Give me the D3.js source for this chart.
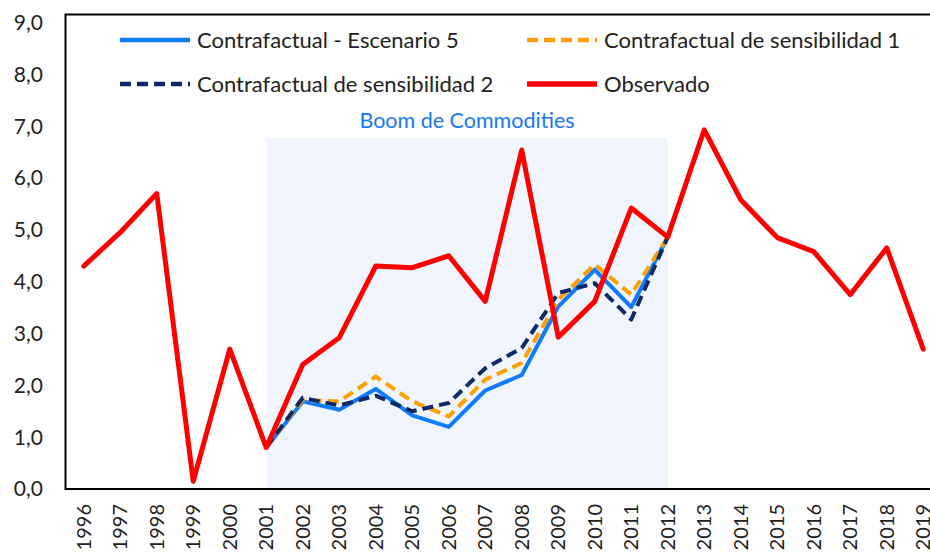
<!DOCTYPE html>
<html>
<head>
<meta charset="utf-8">
<script src="https://cdn.jsdelivr.net/npm/d3@7"></script>
<style>
  body { margin: 0; background: #fff; }
  svg { font-family: Lato, "Open Sans", sans-serif; display: block; }
</style>
</head>
<body>
<svg id="chart" width="930" height="554"></svg>
<script>
// data
const years = d3.range(1996, 2020).map(String);
const observado = [4.3, 4.95, 5.7, 0.15, 2.7, 0.8, 2.4, 2.92, 4.3, 4.27, 4.5, 3.62, 6.54, 2.93, 3.62, 5.42, 4.86, 6.93, 5.58, 4.85, 4.58, 3.75, 4.65, 2.7];
const boomYears = years.slice(5, 17); // 2001..2012
const escenario5 = [0.8, 1.69, 1.53, 1.93, 1.42, 1.2, 1.9, 2.2, 3.52, 4.23, 3.51, 4.86];
const sens1 = [0.8, 1.72, 1.69, 2.17, 1.69, 1.4, 2.11, 2.43, 3.65, 4.33, 3.75, 4.86];
const sens2 = [0.8, 1.76, 1.61, 1.8, 1.5, 1.66, 2.33, 2.72, 3.78, 3.97, 3.27, 4.86];
const boomHeight = 6.77;
const yTicks = d3.range(0, 10);

const series = [
	{name: 'Contrafactual - Escenario 5', x: boomYears, v: escenario5, color: '#0f7bff', w: 4, dash: null},
	{name: 'Contrafactual de sensibilidad 1', x: boomYears, v: sens1, color: '#ffa000', w: 4, dash: '11,6'},
	{name: 'Contrafactual de sensibilidad 2', x: boomYears, v: sens2, color: '#0b2a66', w: 4, dash: '11,6'},
	{name: 'Observado', x: years, v: observado, color: '#ff0000', w: 5, dash: null}
];

const svg = d3.select('#chart'),
	left = 65.5, bottom = 489, top9 = 22.5;

// categories are 36.5px wide, plot runs off the right edge like the original
const x = d3.scaleBand().domain(years).range([left, left + 36.5*years.length]);
const y = d3.scaleLinear().domain([0, 9]).range([bottom, top9]);
const cx = d => x(d) + x.bandwidth()/2;

//shaded boom period, from the 2001 point to the 2012 point
svg.append('rect')
	.attr('x', cx('2001'))
	.attr('width', cx('2012') - cx('2001'))
	.attr('y', y(boomHeight))
	.attr('height', y(0) - y(boomHeight))
	.attr('fill', '#f0f5fe');

svg.append('text')
	.text('Boom de Commodities')
	.attr('x', (cx('2001') + cx('2012'))/2)
	.attr('y', y(boomHeight) - 18)
	.attr('dy', '0.35em')
	.attr('text-anchor', 'middle')
	.attr('font-size', 21.5)
	.attr('fill', '#1877f2');

// frame: left, top and bottom lines
svg.append('path')
	.attr('d', `M930,14.5H${left}V${bottom}H930`)
	.attr('fill', 'none')
	.attr('stroke', '#000')
	.attr('stroke-width', 2);

// y axis labels, comma decimals
const fmt = d => d3.format('.1f')(d).replace('.', ',');
svg.append('g').selectAll('text')
	.data(yTicks).enter().append('text')
	.text(fmt)
	.attr('x', 43)
	.attr('y', d => y(d))
	.attr('dy', '0.35em')
	.attr('text-anchor', 'end')
	.attr('font-size', 21)
	.attr('fill', '#222');

// x axis labels, rotated
svg.append('g').selectAll('text')
	.data(years).enter().append('text')
	.text(d => d)
	.attr('transform', d => `translate(${cx(d)},504) rotate(-90)`)
	.attr('dy', '0.35em')
	.attr('text-anchor', 'end')
	.attr('font-size', 20)
	.attr('fill', '#222');

// lines
const line = s => d3.line().x((d, i) => cx(s.x[i])).y(d => y(d));
series.forEach(s => {
	svg.append('path')
		.datum(s.v)
		.attr('d', line(s))
		.attr('fill', 'none')
		.attr('stroke', s.color)
		.attr('stroke-width', s.w)
		.attr('stroke-dasharray', s.dash)
		.attr('stroke-linejoin', 'round')
		.attr('stroke-linecap', s.dash ? 'butt' : 'round');
});

//legend, two rows of two
const legPos = [[120, 40], [527, 40], [120, 84], [527, 84]];
const leg = svg.append('g').selectAll('g')
	.data(series).enter().append('g')
	.attr('transform', (d, i) => `translate(${legPos[i][0]},${legPos[i][1]})`);

leg.append('line')
	.attr('x1', 0).attr('x2', 70)
	.attr('stroke', d => d.color)
	.attr('stroke-width', d => d.w + 0.5)
	.attr('stroke-dasharray', d => d.dash);

leg.append('text')
	.text(d => d.name)
	.attr('x', 77)
	.attr('dy', '0.35em')
	.attr('font-size', 22)
	.attr('fill', '#222');
</script>
</body>
</html>
